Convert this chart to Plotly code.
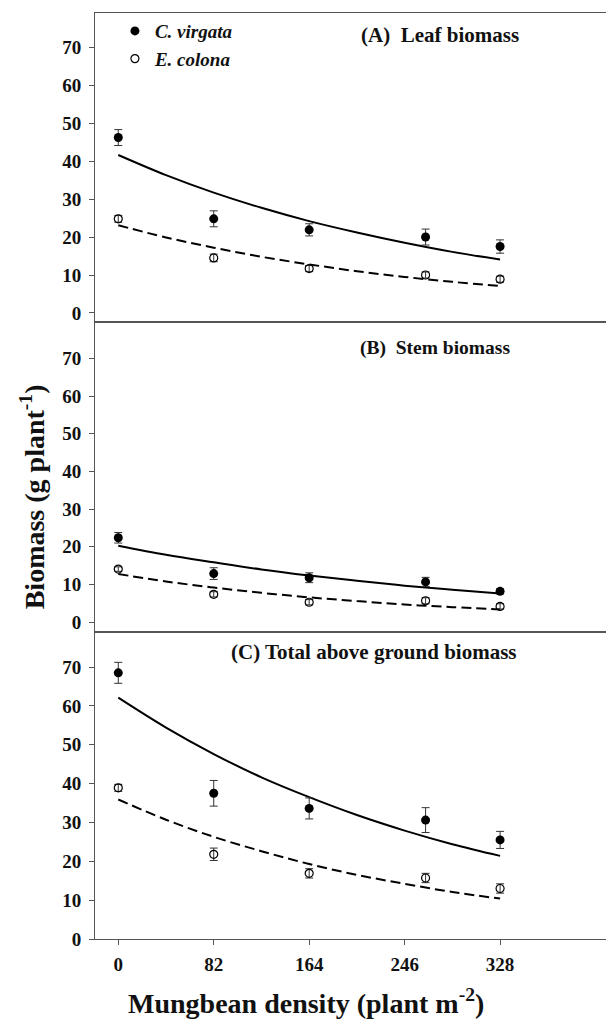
import plotly.graph_objects as go

# ---------------- data ----------------
DENSITY = [0, 82, 164, 264, 328]
X_TICKS = [0, 82, 164, 246, 328]
Y_TICKS = [0, 10, 20, 30, 40, 50, 60, 70]

LEAF_CV = [46.2, 24.8, 21.9, 20.0, 17.5]
LEAF_CV_SE = [2.1, 2.1, 1.6, 2.1, 1.75]
LEAF_EC = [24.8, 14.5, 11.7, 10.0, 8.9]
LEAF_EC_SE = [0.9, 1.0, 0.8, 0.8, 0.8]

STEM_CV = [22.4, 12.9, 11.8, 10.7, 8.2]
STEM_CV_SE = [1.4, 1.55, 1.3, 1.2, 0.7]
STEM_EC = [14.1, 7.4, 5.3, 5.7, 4.2]
STEM_EC_SE = [0.6, 0.7, 0.7, 0.8, 0.7]

TOTAL_CV = [68.5, 37.5, 33.6, 30.6, 25.5]
TOTAL_CV_SE = [2.7, 3.3, 2.7, 3.2, 2.2]
TOTAL_EC = [38.9, 21.8, 16.9, 15.7, 13.0]
TOTAL_EC_SE = [0.9, 1.6, 1.2, 1.2, 1.2]

# fitted curves, read at these densities
FIT_X = [0, 41, 82, 123, 164, 205, 246, 287, 328]
LEAF_CV_FIT = [41.6, 36.3, 31.7, 27.7, 24.2, 21.2, 18.5, 16.1, 14.1]
LEAF_EC_FIT = [23.1, 19.9, 17.2, 14.8, 12.8, 11.0, 9.5, 8.2, 7.1]
STEM_CV_FIT = [20.3, 17.9, 15.9, 14.0, 12.4, 11.0, 9.7, 8.6, 7.6]
STEM_EC_FIT = [12.8, 10.8, 9.2, 7.8, 6.6, 5.6, 4.7, 4.0, 3.4]
TOTAL_CV_FIT = [62.1, 54.4, 47.6, 41.6, 36.5, 31.9, 27.9, 24.4, 21.4]
TOTAL_EC_FIT = [35.9, 30.7, 26.3, 22.6, 19.3, 16.5, 14.2, 12.1, 10.4]

PANEL_LABELS = ["(A)  Leaf biomass", "(B)  Stem biomass", "(C) Total above ground biomass"]
SPECIES = ["C. virgata", "E. colona"]

FONT = "Liberation Serif, Times New Roman, serif"
AXC = "#555555"
TXT = "#111111"

panels = [
    (LEAF_CV, LEAF_CV_SE, LEAF_EC, LEAF_EC_SE, LEAF_CV_FIT, LEAF_EC_FIT),
    (STEM_CV, STEM_CV_SE, STEM_EC, STEM_EC_SE, STEM_CV_FIT, STEM_EC_FIT),
    (TOTAL_CV, TOTAL_CV_SE, TOTAL_EC, TOTAL_EC_SE, TOTAL_CV_FIT, TOTAL_EC_FIT),
]

fig = go.Figure()
for i, (cv, cvse, ec, ecse, cvfit, ecfit) in enumerate(panels):
    xa = "x" if i == 0 else f"x{i+1}"
    ya = "y" if i == 0 else f"y{i+1}"
    fig.add_trace(go.Scatter(x=FIT_X, y=cvfit, mode="lines", line=dict(color="black", width=2, shape="spline"),
                             xaxis=xa, yaxis=ya, showlegend=False, hoverinfo="skip"))
    fig.add_trace(go.Scatter(x=FIT_X, y=ecfit, mode="lines",
                             line=dict(color="black", width=2, dash="10px,5px", shape="spline"),
                             xaxis=xa, yaxis=ya, showlegend=False, hoverinfo="skip"))
    fig.add_trace(go.Scatter(x=DENSITY, y=cv, mode="markers",
                             marker=dict(symbol="circle", size=9, color="black"),
                             error_y=dict(type="data", array=cvse, color="#333333", thickness=1, width=4),
                             xaxis=xa, yaxis=ya, name=f"<b><i>{SPECIES[0]}</i></b>",
                             showlegend=(i == 0)))
    fig.add_trace(go.Scatter(x=DENSITY, y=ec, mode="markers",
                             marker=dict(symbol="circle-open", size=8, color="black", line=dict(width=1.2)),
                             error_y=dict(type="data", array=ecse, color="#333333", thickness=1, width=4),
                             xaxis=xa, yaxis=ya, name=f"<b><i>{SPECIES[1]}</i></b>",
                             showlegend=(i == 0)))

domains = [[0.6666, 1.0], [0.3315, 0.6666], [0.0, 0.3315]]
yranges = [[-2.3, 79], [-2.6, 79.7], [0, 79]]
tickfont = dict(family=FONT, size=19, color=TXT, weight="bold")
for i in range(3):
    xkey = "xaxis" if i == 0 else f"xaxis{i+1}"
    ykey = "yaxis" if i == 0 else f"yaxis{i+1}"
    yname = "y" if i == 0 else f"y{i+1}"
    xname = "x" if i == 0 else f"x{i+1}"
    fig.layout[xkey] = dict(anchor=yname, domain=[0, 1], range=[-20, 419],
                            showline=True, mirror=True, linecolor=AXC, linewidth=1,
                            showgrid=False, zeroline=False,
                            tickvals=X_TICKS, ticktext=[str(v) for v in X_TICKS],
                            showticklabels=(i == 2), ticks="outside" if i == 2 else "",
                            ticklen=5, tickcolor=AXC, tickfont=tickfont, ticklabelstandoff=3)
    fig.layout[ykey] = dict(anchor=xname, domain=domains[i], range=yranges[i],
                            showline=True, mirror=False, linecolor=AXC, linewidth=1,
                            showgrid=False, zeroline=False,
                            tickvals=Y_TICKS, ticks="outside", ticklen=5, tickcolor=AXC,
                            tickfont=tickfont, ticklabelstandoff=4)

PANEL_Y = [0.9766, 0.6382, 0.3099]
PANEL_X = [0.834, 0.816, 0.830]
PANEL_FS = [21, 19.5, 21]
annotations = []
for i in range(3):
    annotations.append(dict(text=f"<b>{PANEL_LABELS[i]}</b>", xref="paper", yref="paper",
                            x=PANEL_X[i], y=PANEL_Y[i], xanchor="right", yanchor="middle",
                            showarrow=False, font=dict(family=FONT, size=PANEL_FS[i], color=TXT)))
annotations.append(dict(text="<b>Biomass (g plant<sup>-1</sup>)</b>", xref="paper", yref="paper",
                        x=-0.122, y=0.4777, xanchor="center", yanchor="middle", textangle=-90,
                        showarrow=False, font=dict(family=FONT, size=28, color=TXT)))
annotations.append(dict(text="<b>Mungbean density (plant m<sup>-2</sup>)</b>", xref="paper", yref="paper",
                        x=0.4136, y=-0.0677, xanchor="center", yanchor="middle",
                        showarrow=False, font=dict(family=FONT, size=28, color=TXT)))

fig.update_layout(
    width=606, height=1025,
    margin=dict(l=95, r=0, t=13, b=86),
    paper_bgcolor="white", plot_bgcolor="white",
    annotations=annotations,
    showlegend=True,
    legend=dict(x=0.039, y=1.001, xanchor="left", yanchor="top", bgcolor="rgba(0,0,0,0)",
                font=dict(family=FONT, size=19, color=TXT), traceorder="normal",
                tracegroupgap=0),
)

fig.write_html("out.html")
